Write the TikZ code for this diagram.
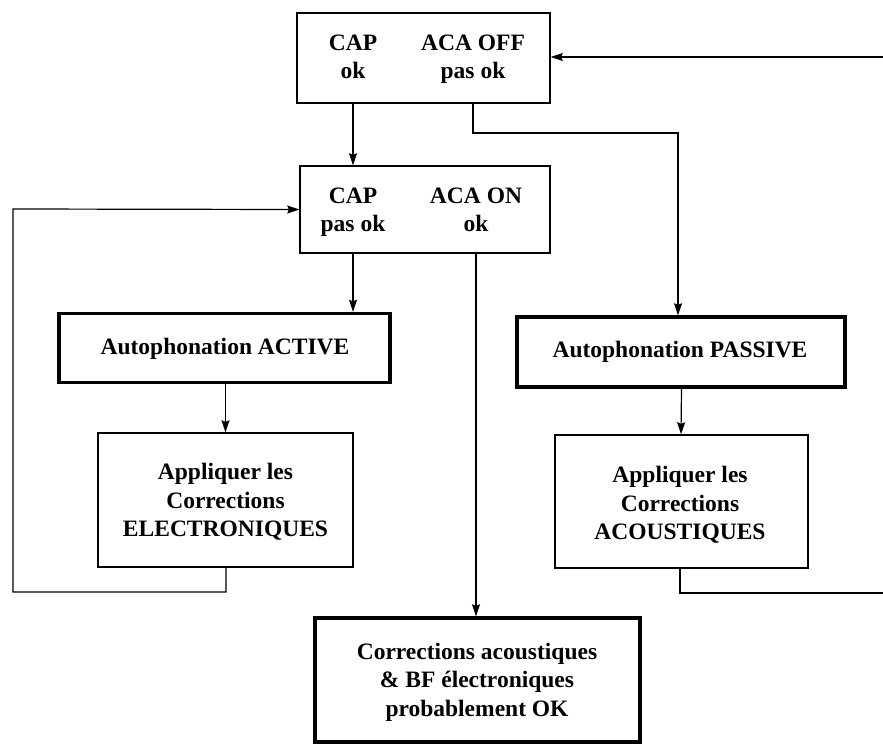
\documentclass[tikz,border=0pt]{standalone}
\usepackage{fontspec}
\setmainfont{Liberation Serif}
\usetikzlibrary{arrows.meta}
\tikzset{
  thinbox/.style={draw, line width=1.4pt, inner sep=0pt, rectangle},
  thickbox/.style={draw, line width=3.4pt, inner sep=0pt, rectangle},
  txt/.style={align=center, inner sep=0pt, font=\fontsize{23.5}{28.5}\selectfont\bfseries},
  conn/.style={line width=1.2pt},
  arr/.style={conn, -{Stealth[length=12pt,width=8pt,inset=1.5pt]}},
}
\begin{document}
\begin{tikzpicture}[x=1pt,y=-1pt]
\useasboundingbox (0,0) rectangle (883,744);
% boxes
\node[thinbox, minimum width=253pt, minimum height=90pt] (top) at (423.5,58) {};
\node[txt] (topcap) at (353,59) {CAP\strut\\ok\strut};
\node[txt] (topaca) at (473,59) {ACA OFF\strut\\pas ok\strut};
\node[thinbox, minimum width=250pt, minimum height=87pt] (mid) at (425,209.5) {};
\node[txt] (midcap) at (353,212) {CAP\strut\\pas ok\strut};
\node[txt] (midaca) at (476,212) {ACA ON\strut\\ok\strut};
\node[thickbox, minimum width=331pt, minimum height=69pt] (act) at (224.5,348) {};
\node[txt] (acttxt) at (225,349) {Autophonation ACTIVE};
\node[thickbox, minimum width=328pt, minimum height=70pt] (pas) at (681,352) {};
\node[txt] (pastxt) at (680,352) {Autophonation PASSIVE};
\node[thinbox, minimum width=255pt, minimum height=134pt] (elec) at (225.5,500) {};
\node[txt] (electxt) at (225.5,502) {Appliquer les\\Corrections\\ELECTRONIQUES};
\node[thinbox, minimum width=253pt, minimum height=133pt] (acou) at (681.5,501.5) {};
\node[txt] (acoutxt) at (680,505) {Appliquer les\\Corrections\\ACOUSTIQUES};
\node[thickbox, minimum width=325pt, minimum height=124pt] (fin) at (477.5,680) {};
\node[txt] (fintxt) at (477,682) {Corrections acoustiques\\\& BF électroniques\\probablement OK};
% free ends at the right edge
\coordinate (edgeA) at (883,593);
\coordinate (edgeB) at (883,57);
% connectors
\draw[arr] (top.south -| topcap) -- (mid.north -| topcap);
\draw[arr] (top.south -| topaca) |- (678,133) -- (pas.north -| 678,0);
\draw[arr] (mid.south -| midcap) -- (act.north -| midcap);
\draw[arr] (mid.south -| midaca) -- (fin.north -| midaca);
\draw[arr] (act.south -| elec) -- (elec.north);
\draw[arr] (pas.south -| acou) -- (acou.north -| pas);
\draw[arr] (elec.south -| 226,0) -- (226,592) -- (13,592) -- (13,209) -- (mid.west);
\draw[conn] (acou.south -| 680,0) |- (edgeA);
\draw[arr] (edgeB) -- (top.east |- edgeB);
\end{tikzpicture}
\end{document}
